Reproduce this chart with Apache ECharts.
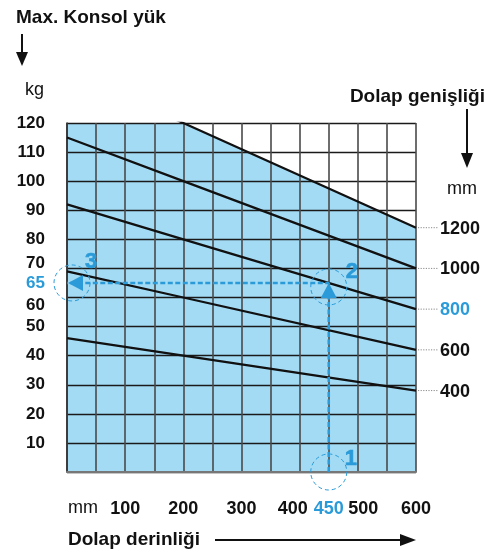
<!DOCTYPE html>
<html>
<head>
<meta charset="utf-8">
<script src="https://cdn.jsdelivr.net/npm/echarts@6/dist/echarts.min.js"></script>
<style>
html,body{margin:0;padding:0;background:#fff;}
#c{width:487px;height:556px;}
</style>
</head>
<body>
<div id="c"></div>
<script>
// ---- data ----
const depths = [0, 200, 600];          // Dolap derinliği (mm)
const widths = [400, 600, 800, 1000, 1200]; // Dolap genişliği (mm)
const load400 = [46, 40, 28];
const load600 = [69, 60, 42];
const load800 = [92, 80, 56];
const load1000 = [115, 100, 70];
const load1200 = [138, 120, 84];
const xTickLabels = [100, 200, 300, 400, 450, 500, 600];
const yTickLabels = [10, 20, 30, 40, 50, 60, 65, 70, 80, 90, 100, 110, 120];
const pickDepth = 450;
const pickLoad = 65;
const pickWidth = 800;
const stepNames = ['1', '2', '3'];

// ---- styles ----
const FONT = "'Liberation Sans', Arial, sans-serif";
const BLUE = '#2a9bd8';
const FILL = '#a3dbf4';

const loadsByWidth = [load400, load600, load800, load1000, load1200];
const toPts = arr => depths.map((d, i) => [d, arr[i]]);
const maxD = depths[depths.length - 1];

const series = [];
// shaded area under the 1200 mm curve
series.push({
  type: 'line', data: toPts(load1200), symbol: 'none', z: 1, silent: true,
  lineStyle: { width: 0 }, areaStyle: { color: FILL, opacity: 1 }
});
loadsByWidth.forEach(arr => {
  series.push({
    type: 'line', data: toPts(arr), symbol: 'none', z: 5, silent: true,
    lineStyle: { color: '#111', width: 2.3 }
  });
});
// width labels with dotted leaders at the right end of each curve
series.push({
  type: 'custom', z: 5, silent: true, clip: false,
  data: loadsByWidth.map((arr, i) => [maxD, arr[arr.length - 1], widths[i]]),
  renderItem: (params, api) => {
    const p = api.coord([api.value(0), api.value(1)]);
    const w = api.value(2);
    return {
      type: 'group', children: [
        { type: 'line', shape: { x1: p[0] + 2, y1: p[1], x2: p[0] + 22, y2: p[1] },
          style: { stroke: '#8a8a8a', lineWidth: 1, lineDash: [1.2, 1.4] } },
        { type: 'text', x: p[0] + 24, y: p[1] + 1,
          style: { text: String(w), fontFamily: FONT, fontWeight: 'bold', fontSize: 18,
                   fill: w === pickWidth ? BLUE : '#111', align: 'left', verticalAlign: 'middle' } }
      ]
    };
  }
});
// pick guides
series.push({
  type: 'line', z: 6, silent: true, symbol: 'none',
  data: [[pickDepth, 0], [pickDepth, pickLoad], [0, pickLoad]],
  lineStyle: { color: BLUE, width: 2.6, type: [5, 2.5] }
});
// circles, step numbers and arrow heads
const circleOffsets = [[0, 0], [0, 4], [5, 0]];
const numOffsets = [[22, -13], [23, -15], [19, -21]];
const arrowRot = [null, 0, 90];
series.push({
  type: 'custom', z: 7, silent: true, clip: false,
  data: [[pickDepth, 0, 0], [pickDepth, pickLoad, 1], [0, pickLoad, 2]],
  renderItem: (params, api) => {
    const p = api.coord([api.value(0), api.value(1)]);
    const k = api.value(2);
    const c = circleOffsets[k], n = numOffsets[k];
    const children = [
      { type: 'circle', shape: { cx: p[0] + c[0], cy: p[1] + c[1], r: 18 },
        style: { fill: 'none', stroke: BLUE, lineWidth: 1, lineDash: [4, 3] } },
      { type: 'text', x: p[0] + c[0] + n[0], y: p[1] + c[1] + n[1],
        style: { text: stepNames[k], fontFamily: FONT, fontWeight: 'bold', fontSize: 22,
                 fill: BLUE, stroke: BLUE, lineWidth: 0.6, align: 'center', verticalAlign: 'middle' } }
    ];
    if (arrowRot[k] === 0) {
      children.push({ type: 'polygon', shape: { points: [[p[0], p[1]], [p[0] - 8, p[1] + 15], [p[0] + 8, p[1] + 15]] },
        style: { fill: BLUE } });
    } else if (arrowRot[k] === 90) {
      children.push({ type: 'polygon', shape: { points: [[p[0] + 1, p[1]], [p[0] + 16, p[1] - 8], [p[0] + 16, p[1] + 8]] },
        style: { fill: BLUE } });
    }
    return { type: 'group', children };
  }
});

const txt = (x, y, text, opts) => ({
  type: 'text', x, y, silent: true,
  style: Object.assign({ text, fontFamily: FONT, fontSize: 18, fill: '#111' }, opts || {})
});

const option = {
  animation: false,
  backgroundColor: '#fff',
  grid: { left: 67, top: 123, width: 349, height: 349, containLabel: false },
  xAxis: {
    type: 'value', min: 0, max: 600, interval: 50, z: 3,
    axisLine: { show: true, lineStyle: { color: '#777', width: 2 } },
    axisTick: { show: false },
    splitLine: { show: true, lineStyle: { color: '#4a4a4a', width: 1.6 } },
    axisLabel: {
      customValues: xTickLabels, margin: 28,
      fontFamily: FONT, fontWeight: 'bold', fontSize: 18, color: '#111',
      formatter: v => v === 450 ? '{b|450}' : v === 400 ? '{l|400}' : v === 500 ? '{r|500}' : String(v),
      rich: {
        b: { color: BLUE, fontFamily: FONT, fontWeight: 'bold', fontSize: 18 },
        l: { color: '#111', fontFamily: FONT, fontWeight: 'bold', fontSize: 18, padding: [0, 14, 0, 0] },
        r: { color: '#111', fontFamily: FONT, fontWeight: 'bold', fontSize: 18, padding: [0, 0, 0, 11] }
      }
    }
  },
  yAxis: {
    type: 'value', min: 0, max: 120, interval: 10, z: 3,
    axisLine: { show: true, lineStyle: { color: '#333', width: 1.6 } },
    axisTick: { show: false },
    splitLine: { show: true, lineStyle: { color: '#1a1a1a', width: 1.3 } },
    axisLabel: {
      customValues: yTickLabels, margin: 22,
      fontFamily: FONT, fontWeight: 'bold', fontSize: 17, color: '#111',
      formatter: v => v === 65 ? '{b|65}' : v === 70 ? '{u|70}' : v === 60 ? '{d|60}' : String(v),
      rich: {
        b: { color: BLUE, fontFamily: FONT, fontWeight: 'bold', fontSize: 17 },
        u: { color: '#111', fontFamily: FONT, fontWeight: 'bold', fontSize: 17, padding: [0, 0, 10, 0] },
        d: { color: '#111', fontFamily: FONT, fontWeight: 'bold', fontSize: 17, padding: [16, 0, 0, 0] }
      }
    }
  },
  graphic: [
    txt(16, 8, 'Max. Konsol yük', { fontWeight: 'bold', fontSize: 19 }),
    { type: 'line', silent: true, shape: { x1: 22, y1: 34, x2: 22, y2: 56 }, style: { stroke: '#111', lineWidth: 2 } },
    { type: 'polygon', silent: true, shape: { points: [[16, 52], [28, 52], [22, 66]] }, style: { fill: '#111' } },
    txt(25, 81, 'kg', { fontSize: 18 }),
    txt(485, 87, 'Dolap genişliği', { fontWeight: 'bold', fontSize: 19, align: 'right' }),
    { type: 'line', silent: true, shape: { x1: 467, y1: 109, x2: 467, y2: 156 }, style: { stroke: '#111', lineWidth: 2 } },
    { type: 'polygon', silent: true, shape: { points: [[461, 153], [473, 153], [467, 168]] }, style: { fill: '#111' } },
    txt(447, 180, 'mm', { fontSize: 18 }),
    txt(68, 499, 'mm', { fontSize: 18 }),
    txt(68, 530, 'Dolap derinliği', { fontWeight: 'bold', fontSize: 19 }),
    { type: 'line', silent: true, shape: { x1: 215, y1: 540, x2: 402, y2: 540 }, style: { stroke: '#111', lineWidth: 2 } },
    { type: 'polygon', silent: true, shape: { points: [[400, 534], [400, 546], [416, 540]] }, style: { fill: '#111' } }
  ],
  series
};

const chart = echarts.init(document.getElementById('c'), null, { renderer: 'canvas' });
chart.setOption(option);
</script>
</body>
</html>
